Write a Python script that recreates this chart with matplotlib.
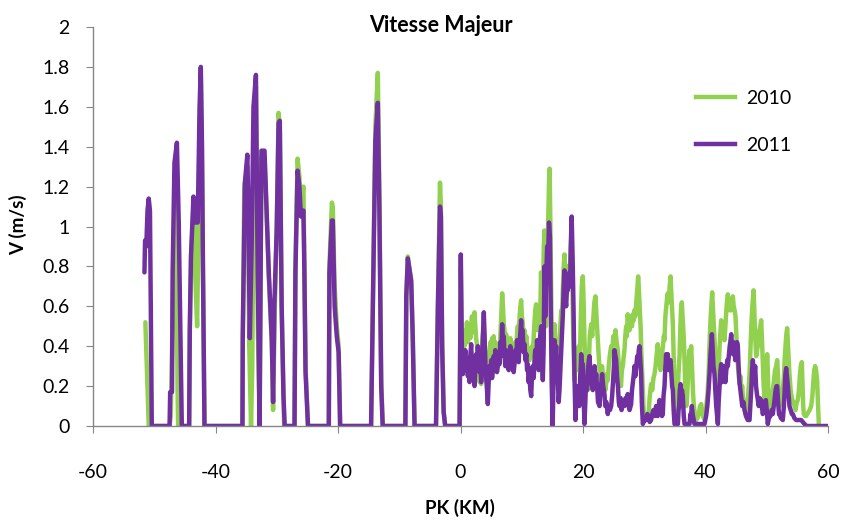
import matplotlib
matplotlib.use("Agg")
import matplotlib.pyplot as plt
from matplotlib.lines import Line2D

plt.rcParams['font.family'] = ['Lato', 'DejaVu Sans']

title = "Vitesse Majeur"
xlabel = "PK (KM)"
ylabel = "V (m/s)"
series_names = ["2010", "2011"]
xticks = [-60, -40, -20, 0, 20, 40, 60]
yticks = [0, 0.2, 0.4, 0.6, 0.8, 1, 1.2, 1.4, 1.6, 1.8, 2]
ytick_labels = ["0", "0.2", "0.4", "0.6", "0.8", "1", "1.2", "1.4", "1.6", "1.8", "2"]

# ---- 2010 (green): (PK km, V m/s) readings ----
pts_2010_west = [
    (-51.45, 0.52), (-51.0, 0.10), (-50.9, 0.0), (-47.5, 0.0), (-47.3, 0.05), (-46.9, 0.70),
    (-46.5, 1.30), (-46.2, 0.20), (-46.1, 0.0), (-45.5, 0.0),
    (-44.3, 0.0), (-44.2, 0.45), (-44.0, 0.85), (-43.6, 1.10), (-43.3, 0.75), (-43.0, 0.50),
    (-42.8, 0.95), (-42.6, 1.50), (-42.4, 1.75), (-42.2, 1.30), (-42.05, 0.80), (-41.8, 0.0),
    (-35.6, 0.0), (-35.55, 0.40), (-35.3, 1.20), (-34.8, 1.30), (-34.5, 0.42), (-34.2, 0.0),
    (-34.0, 0.30), (-33.7, 1.50), (-33.4, 1.70), (-33.1, 0.50), (-32.8, 0.0),
    (-32.5, 1.35), (-32.0, 1.35), (-31.3, 0.75), (-30.8, 0.40), (-30.6, 0.08), (-30.3, 0.60),
    (-30.0, 1.00), (-29.7, 1.57), (-29.5, 1.50), (-29.2, 0.60), (-28.8, 0.0),
    (-27.1, 0.0), (-26.95, 0.80), (-26.6, 1.34), (-26.3, 1.25), (-26.05, 1.10), (-25.65, 1.20),
    (-25.5, 0.85), (-25.3, 0.30), (-24.9, 0.0),
    (-21.5, 0.0), (-21.4, 0.80), (-21.0, 1.12), (-20.85, 1.10), (-20.55, 0.70), (-20.2, 0.50),
    (-19.9, 0.40), (-19.65, 0.0),
    (-14.6, 0.0), (-14.3, 0.65), (-13.9, 1.50), (-13.5, 1.77), (-13.25, 1.20), (-12.95, 0.25),
    (-12.7, 0.0),
    (-9.0, 0.0), (-8.85, 0.65), (-8.6, 0.85), (-8.3, 0.78), (-8.05, 0.72), (-7.8, 0.45), (-7.5, 0.0),
    (-4.0, 0.0), (-3.7, 0.60), (-3.35, 1.22), (-3.2, 1.10), (-3.0, 0.45), (-2.75, 0.07), (-2.5, 0.0),
    (-0.15, 0.0),
]
pts_2010_centre = [
    (0.05, 0.80), (0.2, 0.40), (0.38, 0.36), (0.5, 0.45), (0.65, 0.40), (0.78, 0.48), (0.92, 0.44),
    (1.05, 0.52), (1.2, 0.42), (1.33, 0.48), (1.47, 0.50), (1.6, 0.44), (1.74, 0.50), (1.87, 0.55),
    (2.0, 0.47), (2.15, 0.52), (2.29, 0.57), (2.42, 0.50), (2.55, 0.44), (2.72, 0.40), (2.85, 0.30),
    (3.0, 0.24), (3.1, 0.22), (3.23, 0.30), (3.37, 0.21), (3.5, 0.38), (3.65, 0.45), (3.81, 0.50),
    (3.95, 0.40), (4.1, 0.33), (4.25, 0.30), (4.46, 0.23), (4.6, 0.30), (4.75, 0.38), (4.9, 0.42),
    (5.02, 0.36), (5.15, 0.44), (5.28, 0.40), (5.42, 0.45), (5.55, 0.38), (5.68, 0.42), (5.82, 0.40),
    (5.95, 0.33), (6.1, 0.40), (6.23, 0.36), (6.37, 0.34), (6.5, 0.45), (6.65, 0.55), (6.8, 0.665),
    (6.93, 0.60), (7.05, 0.52), (7.18, 0.48), (7.32, 0.42), (7.45, 0.46), (7.6, 0.40), (7.73, 0.42),
    (7.87, 0.37), (8.0, 0.40), (8.13, 0.44), (8.27, 0.40), (8.4, 0.36), (8.55, 0.40), (8.68, 0.35),
    (8.82, 0.38), (8.95, 0.42), (9.1, 0.38), (9.23, 0.46), (9.36, 0.50), (9.5, 0.45), (9.65, 0.55),
    (9.78, 0.60), (9.9, 0.63), (10.03, 0.55), (10.15, 0.52), (10.3, 0.46), (10.45, 0.48), (10.6, 0.42),
    (10.75, 0.45), (10.87, 0.40), (10.99, 0.38), (11.12, 0.36), (11.26, 0.33), (11.4, 0.38),
    (11.54, 0.35), (11.67, 0.40), (11.8, 0.36), (11.95, 0.45), (12.08, 0.52), (12.2, 0.58),
    (12.35, 0.61), (12.5, 0.52), (12.63, 0.48), (12.77, 0.55), (12.9, 0.52), (13.03, 0.58),
    (13.15, 0.77), (13.28, 0.62), (13.44, 0.60), (13.6, 0.90), (13.7, 0.98), (13.85, 0.60),
    (13.95, 0.50), (14.1, 0.80), (14.3, 1.00), (14.45, 1.22), (14.55, 1.29), (14.7, 0.95),
    (14.85, 0.55), (15.0, 0.10), (15.15, 0.40), (15.35, 0.51), (15.5, 0.40), (15.7, 0.38), (15.9, 0.33),
]
pts_2010_east = [
    (16.16, 0.43), (16.3, 0.50), (16.45, 0.58), (16.6, 0.55), (16.7, 0.68), (16.85, 0.80), (16.98, 0.86),
    (17.1, 0.78), (17.25, 0.70), (17.4, 0.80), (17.52, 0.77), (17.65, 0.70), (17.8, 0.74), (17.95, 0.85),
    (18.1, 0.95), (18.25, 0.75), (18.4, 0.45), (18.6, 0.23), (18.75, 0.30), (18.9, 0.28), (19.05, 0.38),
    (19.15, 0.35), (19.3, 0.40), (19.5, 0.35), (19.65, 0.55), (19.8, 0.70), (19.97, 0.75), (20.1, 0.62),
    (20.24, 0.43), (20.4, 0.30), (20.6, 0.22), (20.79, 0.18), (20.95, 0.30), (21.1, 0.45), (21.33, 0.51),
    (21.5, 0.45), (21.7, 0.55), (21.85, 0.62), (22.04, 0.65), (22.2, 0.55), (22.42, 0.43), (22.55, 0.35),
    (22.7, 0.28), (22.96, 0.23), (23.1, 0.30), (23.3, 0.25), (23.5, 0.26), (23.65, 0.18), (23.8, 0.22),
    (24.05, 0.23), (24.2, 0.30), (24.4, 0.36), (24.6, 0.40), (24.8, 0.38), (24.95, 0.45), (25.1, 0.42),
    (25.3, 0.48), (25.5, 0.42), (25.68, 0.38), (25.85, 0.30), (26.0, 0.25), (26.2, 0.20), (26.35, 0.28),
    (26.5, 0.30), (26.65, 0.35), (26.77, 0.38), (26.9, 0.45), (27.05, 0.50), (27.15, 0.45), (27.3, 0.56),
    (27.45, 0.50), (27.6, 0.48), (27.75, 0.55), (27.86, 0.52), (28.0, 0.50), (28.15, 0.56), (28.3, 0.53),
    (28.4, 0.58), (28.55, 0.55), (28.7, 0.62), (28.85, 0.68), (29.0, 0.75), (29.1, 0.70), (29.25, 0.60),
    (29.4, 0.50), (29.55, 0.35), (29.75, 0.20), (29.9, 0.08), (30.04, 0.03), (30.3, 0.03), (30.58, 0.03),
    (30.75, 0.08), (30.9, 0.15), (31.12, 0.21), (31.3, 0.18), (31.5, 0.24), (31.67, 0.26), (31.85, 0.30),
    (32.0, 0.35), (32.2, 0.41), (32.35, 0.36), (32.5, 0.33), (32.65, 0.28), (32.76, 0.30), (32.9, 0.36),
    (33.05, 0.40), (33.2, 0.45), (33.3, 0.43), (33.45, 0.55), (33.6, 0.60), (33.75, 0.65), (33.85, 0.665),
    (34.0, 0.62), (34.15, 0.70), (34.29, 0.75), (34.4, 0.68), (34.55, 0.58), (34.67, 0.51), (34.8, 0.35),
    (34.95, 0.20), (35.1, 0.08), (35.21, 0.03), (35.35, 0.10), (35.5, 0.20), (35.65, 0.30), (35.76, 0.35),
    (35.9, 0.50), (36.0, 0.58), (36.14, 0.62), (36.25, 0.55), (36.35, 0.50), (36.47, 0.43), (36.6, 0.30),
    (36.7, 0.18), (36.85, 0.10), (37.0, 0.15), (37.15, 0.25), (37.3, 0.35), (37.39, 0.38), (37.5, 0.33),
    (37.66, 0.40), (37.8, 0.30), (37.94, 0.18), (38.1, 0.10), (38.3, 0.05), (38.48, 0.03), (38.7, 0.04),
    (38.9, 0.06), (39.1, 0.10), (39.3, 0.11), (39.5, 0.06), (39.7, 0.04), (39.84, 0.03), (40.0, 0.06),
    (40.2, 0.12), (40.38, 0.18), (40.55, 0.30), (40.7, 0.45), (40.85, 0.55), (41.0, 0.62), (41.09, 0.67),
    (41.2, 0.60), (41.35, 0.50), (41.47, 0.43), (41.6, 0.35), (41.75, 0.28), (41.9, 0.22), (42.02, 0.18),
    (42.15, 0.28), (42.3, 0.40), (42.45, 0.48), (42.56, 0.53), (42.7, 0.50), (42.85, 0.45), (43.0, 0.48),
    (43.1, 0.43), (43.25, 0.50), (43.4, 0.58), (43.5, 0.62), (43.65, 0.66), (43.8, 0.60), (43.95, 0.58),
    (44.09, 0.63), (44.2, 0.58), (44.35, 0.60), (44.47, 0.65), (44.6, 0.60), (44.75, 0.58), (44.9, 0.55),
    (45.05, 0.45), (45.2, 0.35), (45.35, 0.28), (45.55, 0.21), (45.7, 0.25), (45.85, 0.18), (46.0, 0.20),
    (46.1, 0.15), (46.25, 0.12), (46.4, 0.10), (46.64, 0.06), (46.8, 0.10), (46.95, 0.15), (47.1, 0.22),
    (47.19, 0.26), (47.35, 0.40), (47.5, 0.52), (47.65, 0.60), (47.84, 0.68), (47.95, 0.60), (48.1, 0.45),
    (48.28, 0.35), (48.4, 0.38), (48.55, 0.40), (48.66, 0.43), (48.8, 0.48), (48.95, 0.50), (49.09, 0.53),
    (49.2, 0.45), (49.35, 0.32), (49.5, 0.20), (49.64, 0.13), (49.8, 0.20), (49.95, 0.28), (50.07, 0.36),
    (50.2, 0.25), (50.3, 0.12), (50.45, 0.05), (50.6, 0.08), (50.8, 0.14), (50.99, 0.18), (51.15, 0.22),
    (51.35, 0.28), (51.55, 0.30), (51.7, 0.33), (51.85, 0.25), (51.95, 0.15), (52.08, 0.10), (52.25, 0.12),
    (52.45, 0.16), (52.62, 0.18), (52.8, 0.25), (52.95, 0.35), (53.1, 0.42), (53.2, 0.46), (53.33, 0.49),
    (53.45, 0.42), (53.6, 0.32), (53.71, 0.26), (53.9, 0.18), (54.1, 0.14), (54.3, 0.12), (54.53, 0.10),
    (54.7, 0.08), (54.9, 0.12), (55.07, 0.13), (55.25, 0.18), (55.4, 0.25), (55.55, 0.30), (55.73, 0.32),
    (55.85, 0.20), (55.95, 0.10), (56.05, 0.06), (56.25, 0.05), (56.43, 0.05), (56.6, 0.06), (56.8, 0.07),
    (57.0, 0.08), (57.25, 0.10), (57.45, 0.15), (57.6, 0.22), (57.75, 0.28), (57.9, 0.30), (58.05, 0.28),
    (58.23, 0.23), (58.35, 0.12), (58.5, 0.01),
]

# ---- 2011 (purple): (PK km, V m/s) readings ----
pts_2011_west = [
    (-51.6, 0.77), (-51.5, 0.93), (-51.3, 0.90), (-51.1, 1.08), (-50.9, 1.14), (-50.7, 1.08), (-50.4, 0.0),
    (-47.5, 0.0), (-47.4, 0.17), (-47.1, 0.17), (-47.0, 0.77), (-46.7, 1.32), (-46.3, 1.42), (-46.0, 1.02),
    (-45.8, 0.60), (-45.5, 0.0),
    (-44.3, 0.0), (-44.2, 0.48), (-44.0, 0.85), (-43.6, 1.15), (-43.3, 1.02), (-42.9, 1.02), (-42.6, 1.60),
    (-42.4, 1.80), (-42.2, 1.40), (-42.05, 0.80), (-41.8, 0.0),
    (-35.6, 0.0), (-35.55, 0.45), (-35.2, 1.22), (-34.8, 1.36), (-34.6, 0.99), (-34.4, 0.44), (-34.1, 0.90),
    (-33.8, 1.60), (-33.4, 1.76), (-33.15, 0.90), (-32.8, 0.0),
    (-32.5, 1.38), (-32.0, 1.38), (-31.3, 0.77), (-30.8, 0.43), (-30.6, 0.12), (-30.4, 0.60), (-30.0, 0.99),
    (-29.7, 1.52), (-29.5, 1.53), (-29.2, 0.60), (-28.9, 0.15), (-28.7, 0.0),
    (-27.1, 0.0), (-26.95, 0.77), (-26.6, 1.28), (-26.3, 1.20), (-26.05, 1.05), (-25.65, 1.08), (-25.5, 0.80),
    (-25.3, 0.27), (-24.9, 0.0),
    (-21.5, 0.0), (-21.4, 0.77), (-21.0, 1.03), (-20.85, 1.03), (-20.55, 0.60), (-20.2, 0.45), (-19.9, 0.37),
    (-19.65, 0.0),
    (-14.6, 0.0), (-14.3, 0.60), (-13.9, 1.43), (-13.5, 1.62), (-13.25, 1.10), (-12.95, 0.20), (-12.7, 0.0),
    (-9.0, 0.0), (-8.85, 0.65), (-8.6, 0.84), (-8.3, 0.78), (-8.05, 0.73), (-7.8, 0.45), (-7.5, 0.0),
    (-4.0, 0.0), (-3.7, 0.58), (-3.35, 1.10), (-3.2, 1.05), (-3.0, 0.40), (-2.75, 0.07), (-2.5, 0.0),
    (-0.15, 0.0),
]
pts_2011_centre = [
    (0.05, 0.86), (0.15, 0.60), (0.25, 0.30), (0.38, 0.26), (0.5, 0.36), (0.65, 0.30), (0.78, 0.38),
    (0.92, 0.28), (1.05, 0.34), (1.2, 0.25), (1.33, 0.30), (1.47, 0.22), (1.6, 0.35), (1.74, 0.41),
    (1.87, 0.30), (2.0, 0.33), (2.15, 0.24), (2.29, 0.20), (2.42, 0.30), (2.55, 0.36), (2.7, 0.28),
    (2.83, 0.40), (2.97, 0.32), (3.1, 0.27), (3.23, 0.34), (3.37, 0.22), (3.5, 0.30), (3.65, 0.45),
    (3.81, 0.57), (3.95, 0.42), (4.08, 0.30), (4.19, 0.24), (4.33, 0.18), (4.46, 0.11), (4.6, 0.22),
    (4.75, 0.30), (4.9, 0.27), (5.02, 0.33), (5.15, 0.24), (5.28, 0.28), (5.42, 0.35), (5.55, 0.30),
    (5.68, 0.38), (5.82, 0.34), (5.95, 0.27), (6.1, 0.30), (6.23, 0.36), (6.37, 0.31), (6.5, 0.42),
    (6.65, 0.35), (6.8, 0.51), (6.93, 0.40), (7.05, 0.45), (7.18, 0.36), (7.32, 0.30), (7.45, 0.38),
    (7.6, 0.33), (7.73, 0.37), (7.87, 0.28), (8.0, 0.34), (8.13, 0.40), (8.27, 0.36), (8.4, 0.30),
    (8.55, 0.36), (8.68, 0.27), (8.82, 0.31), (8.95, 0.38), (9.1, 0.33), (9.23, 0.43), (9.36, 0.37),
    (9.5, 0.32), (9.65, 0.42), (9.78, 0.47), (9.9, 0.53), (10.03, 0.44), (10.15, 0.48), (10.3, 0.37),
    (10.45, 0.41), (10.6, 0.33), (10.75, 0.36), (10.87, 0.28), (10.99, 0.31), (11.12, 0.22),
    (11.25, 0.26), (11.4, 0.18), (11.54, 0.15), (11.67, 0.25), (11.8, 0.30), (11.95, 0.24),
    (12.08, 0.33), (12.2, 0.38), (12.35, 0.30), (12.5, 0.43), (12.63, 0.37), (12.77, 0.28),
    (12.9, 0.40), (13.03, 0.46), (13.17, 0.50), (13.3, 0.35), (13.44, 0.23), (13.58, 0.40),
    (13.71, 0.80), (13.85, 0.55), (13.95, 0.70), (14.15, 0.90), (14.3, 0.85), (14.45, 1.02),
    (14.6, 0.95), (14.75, 0.55), (14.9, 0.20), (15.05, 0.0), (15.2, 0.25), (15.35, 0.43), (15.5, 0.35),
    (15.62, 0.40), (15.75, 0.28), (15.9, 0.22), (16.03, 0.12),
]
pts_2011_east = [
    (16.16, 0.18), (16.3, 0.28), (16.43, 0.38), (16.55, 0.45), (16.7, 0.55), (16.85, 0.70), (16.98, 0.78),
    (17.1, 0.65), (17.25, 0.60), (17.4, 0.70), (17.52, 0.68), (17.65, 0.72), (17.79, 0.77), (17.9, 0.70),
    (18.0, 0.90), (18.15, 1.05), (18.3, 0.85), (18.45, 0.60), (18.6, 0.26), (18.77, 0.03), (18.9, 0.12),
    (19.05, 0.20), (19.15, 0.15), (19.3, 0.12), (19.4, 0.10), (19.55, 0.25), (19.7, 0.36), (19.85, 0.30),
    (19.97, 0.31), (20.1, 0.15), (20.24, 0.01), (20.38, 0.12), (20.5, 0.23), (20.65, 0.18), (20.8, 0.28),
    (20.95, 0.33), (21.06, 0.35), (21.2, 0.28), (21.35, 0.22), (21.6, 0.18), (21.75, 0.25), (21.9, 0.30),
    (22.05, 0.22), (22.15, 0.26), (22.3, 0.20), (22.45, 0.12), (22.7, 0.10), (22.85, 0.18), (23.0, 0.22),
    (23.12, 0.26), (23.3, 0.20), (23.5, 0.16), (23.65, 0.10), (23.8, 0.12), (24.05, 0.06), (24.2, 0.10),
    (24.4, 0.08), (24.6, 0.10), (24.75, 0.15), (24.9, 0.22), (25.05, 0.30), (25.14, 0.38), (25.3, 0.35),
    (25.41, 0.33), (25.55, 0.25), (25.7, 0.20), (25.85, 0.12), (25.96, 0.10), (26.15, 0.14), (26.3, 0.08),
    (26.5, 0.12), (26.77, 0.10), (26.95, 0.14), (27.1, 0.12), (27.3, 0.16), (27.45, 0.10), (27.6, 0.08),
    (27.86, 0.11), (28.0, 0.18), (28.15, 0.22), (28.3, 0.26), (28.4, 0.30), (28.55, 0.25), (28.7, 0.30),
    (28.85, 0.35), (29.0, 0.32), (29.1, 0.38), (29.22, 0.40), (29.35, 0.33), (29.49, 0.26), (29.6, 0.12),
    (29.77, 0.01), (30.0, 0.03), (30.3, 0.03), (30.5, 0.06), (30.7, 0.05), (30.9, 0.02), (31.12, 0.03),
    (31.3, 0.06), (31.5, 0.08), (31.7, 0.05), (31.94, 0.10), (32.1, 0.06), (32.2, 0.05), (32.35, 0.10),
    (32.49, 0.13), (32.65, 0.10), (32.8, 0.10), (32.9, 0.05), (33.03, 0.06), (33.15, 0.15), (33.31, 0.20),
    (33.45, 0.30), (33.57, 0.36), (33.7, 0.33), (33.85, 0.36), (33.95, 0.30), (34.05, 0.28), (34.15, 0.32),
    (34.29, 0.33), (34.45, 0.25), (34.55, 0.20), (34.67, 0.18), (34.8, 0.08), (34.94, 0.01), (35.2, 0.01),
    (35.49, 0.01), (35.6, 0.08), (35.7, 0.10), (35.8, 0.18), (35.92, 0.21), (36.05, 0.12), (36.15, 0.18),
    (36.3, 0.15), (36.45, 0.05), (36.58, 0.01), (37.0, 0.01), (37.39, 0.01), (37.55, 0.06), (37.65, 0.05),
    (37.77, 0.10), (37.9, 0.06), (38.2, 0.01), (39.0, 0.01), (39.84, 0.01), (40.1, 0.05), (40.3, 0.10),
    (40.5, 0.18), (40.66, 0.26), (40.8, 0.35), (40.95, 0.42), (41.04, 0.46), (41.15, 0.40), (41.3, 0.30),
    (41.47, 0.26), (41.6, 0.18), (41.75, 0.10), (42.02, 0.01), (42.15, 0.12), (42.3, 0.20), (42.45, 0.28),
    (42.56, 0.31), (42.7, 0.22), (42.85, 0.25), (43.0, 0.30), (43.1, 0.30), (43.25, 0.22), (43.4, 0.28),
    (43.55, 0.33), (43.65, 0.30), (43.8, 0.35), (43.95, 0.40), (44.05, 0.42), (44.2, 0.46), (44.35, 0.40),
    (44.5, 0.36), (44.6, 0.42), (44.74, 0.38), (44.85, 0.33), (45.0, 0.35), (45.15, 0.42), (45.28, 0.40),
    (45.4, 0.30), (45.55, 0.22), (45.7, 0.18), (45.83, 0.15), (46.0, 0.10), (46.2, 0.12), (46.37, 0.08),
    (46.6, 0.05), (46.9, 0.03), (47.19, 0.03), (47.35, 0.12), (47.5, 0.20), (47.6, 0.28), (47.73, 0.33),
    (47.85, 0.28), (47.95, 0.25), (48.11, 0.30), (48.25, 0.20), (48.4, 0.16), (48.55, 0.13), (48.7, 0.10),
    (48.85, 0.14), (49.0, 0.12), (49.09, 0.13), (49.2, 0.10), (49.35, 0.06), (49.53, 0.08), (49.7, 0.12),
    (49.85, 0.13), (50.0, 0.08), (50.17, 0.01), (50.35, 0.04), (50.6, 0.05), (50.8, 0.08), (50.99, 0.06),
    (51.15, 0.10), (51.3, 0.14), (51.45, 0.18), (51.6, 0.20), (51.7, 0.20), (51.85, 0.12), (52.0, 0.06),
    (52.08, 0.06), (52.3, 0.04), (52.62, 0.03), (52.8, 0.10), (52.95, 0.20), (53.05, 0.26), (53.17, 0.29),
    (53.3, 0.25), (53.45, 0.20), (53.6, 0.14), (53.71, 0.10), (53.9, 0.08), (54.1, 0.06), (54.26, 0.06),
    (54.5, 0.04), (54.8, 0.03), (55.2, 0.03), (55.62, 0.03), (55.9, 0.02), (56.16, 0.01), (56.5, 0.0),
    (60.0, 0.0),
]

pts_2010 = pts_2010_west + pts_2010_centre + pts_2010_east
pts_2011 = pts_2011_west + pts_2011_centre + pts_2011_east
pk_2010 = [p for p, v in pts_2010]
v_2010 = [v for p, v in pts_2010]
pk_2011 = [p for p, v in pts_2011]
v_2011 = [v for p, v in pts_2011]

GREEN = "#92D050"
PURPLE = "#7030A0"
GRAY = "#868686"
LW = 3.2

fig = plt.figure(figsize=(8.46, 5.22), dpi=100)
ax = fig.add_axes([93 / 846, 1 - 426 / 522, (828 - 93) / 846, (426 - 27) / 522])

ax.plot(pk_2010, v_2010, color=GREEN, lw=LW, solid_joinstyle='round', solid_capstyle='round')
ax.plot(pk_2011, v_2011, color=PURPLE, lw=LW, solid_joinstyle='round', solid_capstyle='round')

ax.set_xlim(-60, 60)
ax.set_ylim(0, 2)
ax.set_xticks(xticks)
ax.set_xticklabels([str(t) for t in xticks])
ax.set_yticks(yticks)
ax.set_yticklabels(ytick_labels)

for s in ("top", "right"):
    ax.spines[s].set_visible(False)
for s in ("left", "bottom"):
    ax.spines[s].set_color(GRAY)
    ax.spines[s].set_linewidth(1.0)
ax.tick_params(axis='both', direction='out', color=GRAY, length=5, labelsize=14)
ax.tick_params(axis='x', pad=22)
ax.tick_params(axis='y', pad=12)

fig.text(441 / 846, 1 - 25 / 522, title, ha='center', va='center', fontsize=15.5, fontweight='bold')
fig.text(460 / 846, 1 - 508 / 522, xlabel, ha='center', va='center', fontsize=13.5, fontweight='bold')
fig.text(18 / 846, 1 - 225 / 522, ylabel, ha='center', va='center', rotation=90, fontsize=13.5,
         fontweight='bold')

handles = [Line2D([], [], color=GREEN, lw=LW), Line2D([], [], color=PURPLE, lw=LW)]
ax.legend(handles, series_names, loc='upper left', bbox_to_anchor=(686 / 846, 1 - 80 / 522),
          bbox_transform=fig.transFigure, frameon=False, fontsize=14,
          handlelength=2.0, handletextpad=0.6, labelspacing=1.55, borderpad=0)

fig.savefig("out.png", dpi=100)
